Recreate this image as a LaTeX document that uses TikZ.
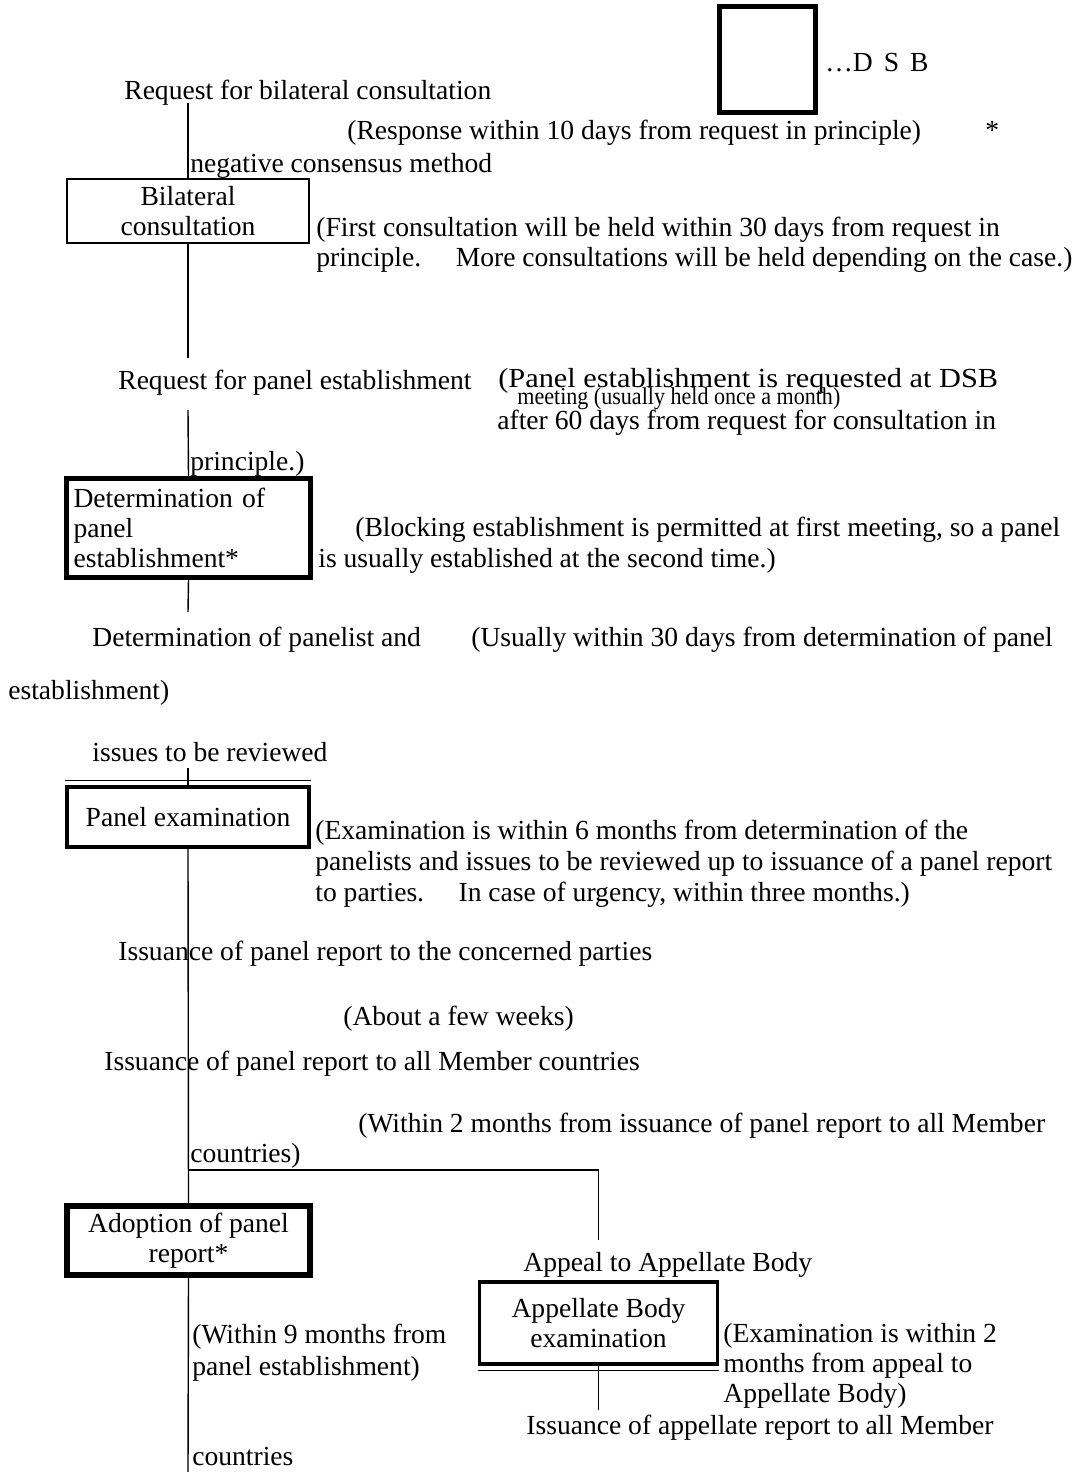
\documentclass[tikz,border=0pt]{standalone}
\usepackage{fontspec}
\setmainfont{Liberation Serif}
\usepackage{graphicx}
\usetikzlibrary{positioning}

\begin{document}
\begin{tikzpicture}[x=0.02cm,y=-0.02cm,
    every node/.style={font=\fontsize{15.7}{17.1}\selectfont,inner sep=0pt},
    lbl/.style={anchor=base west,yshift=-1pt},
    thinbox/.style={draw,line width=0.8pt,align=center},
    midbox/.style={draw,line width=2pt,align=center},
    boldbox/.style={draw,line width=3pt,align=center},
    link/.style={line width=0.8pt}]
  \useasboundingbox (0,0) rectangle (1076,1472);

  % key for the DSB boxes
  \node[draw,line width=2.8pt,minimum width=1.92cm,minimum height=2.12cm] (dsb) at (767.5,59.5) {};
  \node[lbl] (dsbkey) at (825,70) {…D\hspace{0.4em}S\hspace{0.4em}B};

  % main column
  \node[lbl] (reqbil) at (124,98) {Request for bilateral consultation};
  \node[lbl] (resp) at (347,138) {(Response within 10 days from request in principle)};
  \node[lbl] (star) at (985,138) {*};
  \node[lbl] (negcons) at (190,171) {negative consensus method};

  \node[thinbox,minimum width=4.84cm,minimum height=1.28cm] (bilat) at (188,211) {Bilateral\\consultation};
  \node[lbl] (first1) at (316,235) {(First consultation will be held within 30 days from request in};
  \node[lbl] (first2) at (316,265) {principle.\quad\ More consultations will be held depending on the case.)};

  \node[lbl] (reqpanel) at (118,388) {Request for panel establishment};
  \node[lbl] (dsbreq1) at (498,386) {\scalebox{1.1}[1]{(Panel establishment is requested at DSB}};
  \node[lbl] (dsbreq2) at (517,403) {\scalebox{0.8}[0.88]{meeting (usually held once a month)}};
  \node[lbl] (dsbreq3) at (497,428) {after 60 days from request for consultation in};
  \node[lbl] (dsbreq4) at (190,469) {principle.)};

  \node[boldbox,align=left,text width=4.6cm,minimum width=4.88cm,minimum height=1.98cm] (determ) at (188.5,528)
    {Determination of\\panel\\establishment*};
  \node[lbl] (block1) at (355,535) {(Blocking establishment is permitted at first meeting, so a panel};
  \node[lbl] (block2) at (318,566) {is usually established at the second time.)};

  \node[lbl] (detlist1) at (92,645) {Determination of panelist and};
  \node[lbl] (usual1) at (471,645) {(Usually within 30 days from determination of panel};
  \node[lbl] (usual2) at (8,698) {establishment)};
  \node[lbl] (detlist2) at (92,760) {issues to be reviewed};

  \node[midbox,minimum width=4.84cm,minimum height=1.2cm] (panelex) at (188,817) {Panel examination};
  \node[lbl] (exam1) at (315,838) {(Examination is within 6 months from determination of the};
  \node[lbl] (exam2) at (315,869) {panelists and issues to be reviewed up to issuance of a panel report};
  \node[lbl] (exam3) at (315,900) {to parties.\quad\ In case of urgency, within three months.)};

  \node[lbl] (issparty) at (118,959) {Issuance of panel report to the concerned parties};
  \node[lbl] (weeks) at (343,1024) {(About a few weeks)};
  \node[lbl] (issall) at (104,1069) {Issuance of panel report to all Member countries};
  \node[lbl] (two1) at (358,1131) {(Within 2 months from issuance of panel report to all Member};
  \node[lbl] (two2) at (190,1161) {countries)};

  \node[boldbox,minimum width=4.86cm,minimum height=1.38cm] (adopt) at (188.5,1240.5) {Adoption of panel\\report*};
  \node[lbl] (nine1) at (192,1342) {(Within 9 months from};
  \node[lbl] (nine2) at (192,1374) {panel establishment)};
  \node[lbl] (countr) at (192,1464) {countries};

  % appeal branch
  \node[lbl] (appeal) at (523,1270) {Appeal to Appellate Body};
  \node[midbox,minimum width=4.76cm,minimum height=1.64cm] (appel) at (598.5,1323) {Appellate Body\\examination};
  \node[lbl] (abex1) at (723,1341) {(Examination is within 2};
  \node[lbl] (abex2) at (723,1371) {months from appeal to};
  \node[lbl] (abex3) at (723,1401) {Appellate Body)};
  \node[lbl] (issapp) at (526,1433) {Issuance of appellate report to all Member};

  \coordinate (s1) at (188,103);
  \coordinate (s2) at (188,358);
  \coordinate (s3) at (188,410);
  \coordinate (s4) at (188,612);
  \coordinate (s5) at (188,768);
  \coordinate (fork) at (188,1170);
  \coordinate (s8) at (188,1472);
  \coordinate (apptop) at (598.5,1240);
  \coordinate (s9) at (598.5,1410);

  \draw[link] (s1) -- (bilat.north);
  \draw[link] (bilat.south) -- (s2);
  \draw[link] (s3) -- (determ.north);
  \draw[link] (determ.south) -- (s4);
  \draw[link] (s5) -- (panelex.north);
  \draw[link] (panelex.south) -- (adopt.north);
  \draw[link] (fork) -- (fork -| apptop) -- (apptop);
  \draw[link] (adopt.south) -- (s8);
  \draw[link] (appel.south) -- (s9);

  % second rules on the double-edged boxes
  \draw[line width=0.6pt] ([yshift=2.6pt]panelex.north west) -- ([yshift=2.6pt]panelex.north east);
  \draw[line width=0.6pt] ([yshift=-2.6pt]appel.south west) -- ([yshift=-2.6pt]appel.south east);
\end{tikzpicture}
\end{document}
